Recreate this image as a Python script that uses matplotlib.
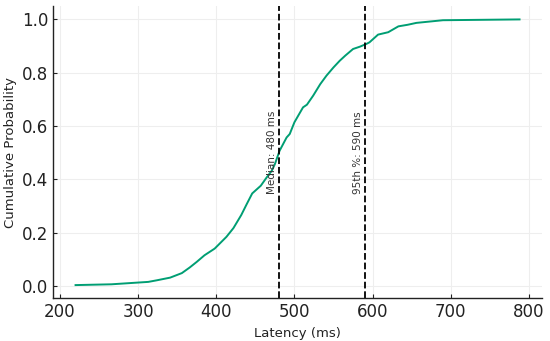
import matplotlib
matplotlib.use("Agg")
import matplotlib.pyplot as plt

latency_ms = [
    220, 266, 313, 324, 341, 356, 366, 375, 385, 398, 413, 422, 432, 439,
    446, 457, 464, 471, 475, 481, 490, 494, 500, 511, 516, 524, 533, 541,
    550, 558, 565, 575, 584, 592, 596, 607, 620, 633, 645, 656, 673, 690, 788,
]
cum_prob = [
    0.003, 0.006, 0.015, 0.021, 0.031, 0.048, 0.069, 0.090, 0.115, 0.140,
    0.184, 0.217, 0.266, 0.307, 0.347, 0.376, 0.405, 0.432, 0.457, 0.507,
    0.557, 0.570, 0.614, 0.670, 0.680, 0.714, 0.757, 0.789, 0.820, 0.845,
    0.864, 0.889, 0.898, 0.908, 0.914, 0.943, 0.952, 0.974, 0.980, 0.987,
    0.992, 0.997, 1.000,
]
median_ms = 480
p95_ms = 590

fig = plt.figure(figsize=(5.5, 3.41), dpi=100)
ax = fig.add_axes([0.097, 0.125, 0.888, 0.857])

ax.plot(latency_ms, cum_prob, color="#009e73", linewidth=1.4)
ax.axvline(median_ms, color="black", linestyle="--", linewidth=1.3)
ax.axvline(p95_ms, color="black", linestyle="--", linewidth=1.3)
ax.text(median_ms - 2, 0.5, f"Median: {median_ms} ms", rotation=90,
        ha="right", va="center", fontsize=7.5, color="#333333")
ax.text(p95_ms - 2, 0.5, f"95th %: {p95_ms} ms", rotation=90,
        ha="right", va="center", fontsize=7.5, color="#333333")

ax.set_xlabel("Latency (ms)", fontsize=9.5, color="#222222")
ax.set_ylabel("Cumulative Probability", fontsize=9.5, color="#222222")
ax.set_xticks([200, 300, 400, 500, 600, 700, 800])
ax.set_yticks([0.0, 0.2, 0.4, 0.6, 0.8, 1.0])
ax.tick_params(direction="in", labelsize=12, length=3, colors="#222222")
ax.grid(True, color="#eeeeee", linewidth=0.8)
ax.set_axisbelow(True)
for side in ("top", "right"):
    ax.spines[side].set_visible(False)
for side in ("left", "bottom"):
    ax.spines[side].set_color("#222222")
    ax.spines[side].set_linewidth(1.0)

fig.savefig("out.png", dpi=100)
